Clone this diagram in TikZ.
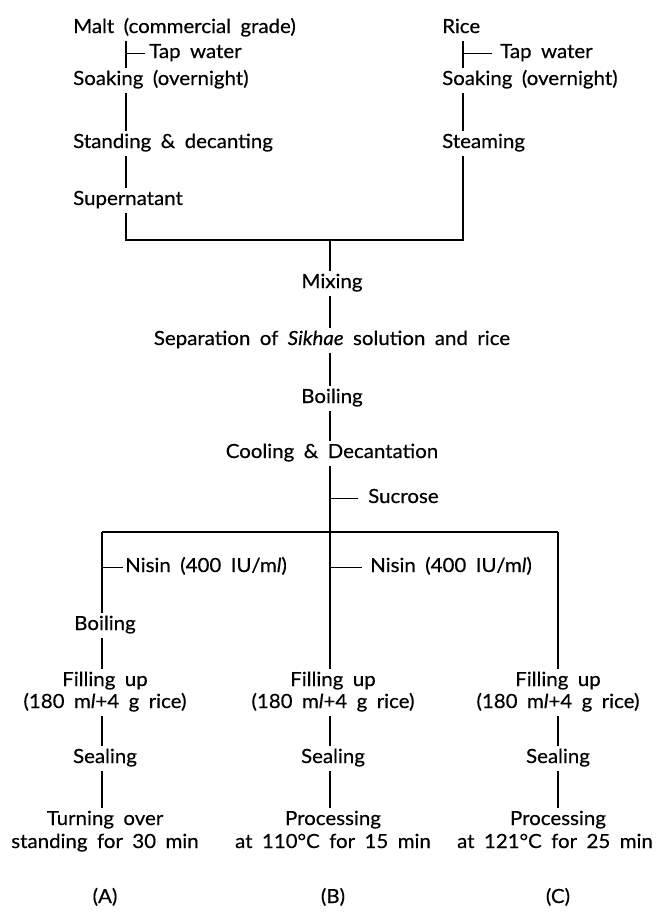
\documentclass[tikz,border=0pt]{standalone}
\usepackage{fontspec}
\setmainfont{Lato}[FakeStretch=1.05, WordSpace=1.8, FakeBold=0.4]
\begin{document}
\begin{tikzpicture}[x=1pt,y=-1pt,
  lbl/.style={inner xsep=0pt, inner ysep=3pt, text height=14pt, text depth=5pt,
    font=\fontsize{19.5}{23}\selectfont},
  ln/.style={line width=1.2pt}]
\useasboundingbox (0,0) rectangle (657,913);
% column lines
\coordinate (cL) at (126,0);
\coordinate (cR) at (463,0);
\coordinate (cM) at (330,0);
\coordinate (cA) at (102,0);
\coordinate (cC) at (558,0);
\coordinate (j1) at (330,240);
\coordinate (j2) at (330,532);
% left top column
\node[lbl,anchor=base west] (malt) at (73,33) {Malt (commercial grade)};
\node[lbl,anchor=base west] (tapL) at (149,58) {Tap water};
\node[lbl,anchor=base west] (soakL) at (73,85) {Soaking (overnight)};
\node[lbl,anchor=base west] (stand) at (73,148) {Standing \& decanting};
\node[lbl,anchor=base west] (sup) at (73,205) {Supernatant};
% right top column
\node[lbl,anchor=base west] (rice) at (442,33) {Rice};
\node[lbl,anchor=base west] (tapR) at (500,58) {Tap water};
\node[lbl,anchor=base west] (soakR) at (442,85) {Soaking (overnight)};
\node[lbl,anchor=base west] (steam) at (442,148) {Steaming};
% centre
\node[lbl,anchor=base] (mix) at (332,288) {Mixing};
\node[lbl,anchor=base] (sep) at (332,345) {Separation of \textit{Sikhae} solution and rice};
\node[lbl,anchor=base] (boil) at (332,403) {Boiling};
\node[lbl,anchor=base] (cool) at (332,458) {Cooling \& Decantation};
\node[lbl,anchor=base west] (sucr) at (368,503) {Sucrose};
\node[lbl,anchor=base west] (nisA) at (125,572) {Nisin (400 IU/m\textit{l})};
\node[lbl,anchor=base west] (nisB) at (370,572) {Nisin (400 IU/m\textit{l})};
% column A
\node[lbl,anchor=base] (boilA) at (105,630) {Boiling};
\node[lbl,anchor=base] (fillA) at (105,686) {Filling up};
\node[lbl,anchor=base] (fillAb) at (105,708) {(180 m\textit{l}+4 g rice)};
\node[lbl,anchor=base] (sealA) at (105,763) {Sealing};
\node[lbl,anchor=base] (turnA) at (105,825) {Turning over};
\node[lbl,anchor=base] (turnAb) at (105,848) {standing for 30 min};
\node[lbl,anchor=base] (labA) at (105,903) {(A)};
% column B
\node[lbl,anchor=base] (fillB) at (333,686) {Filling up};
\node[lbl,anchor=base] (fillBb) at (333,708) {(180 m\textit{l}+4 g rice)};
\node[lbl,anchor=base] (sealB) at (333,763) {Sealing};
\node[lbl,anchor=base] (procB) at (333,825) {Processing};
\node[lbl,anchor=base] (procBb) at (333,848) {at 110\textdegree C for 15 min};
\node[lbl,anchor=base] (labB) at (333,903) {(B)};
% column C
\node[lbl,anchor=base] (fillC) at (558,686) {Filling up};
\node[lbl,anchor=base] (fillCb) at (558,708) {(180 m\textit{l}+4 g rice)};
\node[lbl,anchor=base] (sealC) at (558,763) {Sealing};
\node[lbl,anchor=base] (procC) at (558,825) {Processing};
\node[lbl,anchor=base] (procCb) at (555,848) {at 121\textdegree C for 25 min};
\node[lbl,anchor=base] (labC) at (558,903) {(C)};
% connectors top
\draw[ln] (malt.south -| cL) -- (soakL.north -| cL);
\draw[ln] (tapL.west -| cL) -- ([xshift=-4pt]tapL.west);
\draw[ln] (soakL.south -| cL) -- (stand.north -| cL);
\draw[ln] (stand.south -| cL) -- (sup.north -| cL);
\draw[ln] (rice.south -| cR) -- (soakR.north -| cR);
\draw[ln] (tapR.west -| cR) -- ([xshift=-8pt]tapR.west);
\draw[ln] (soakR.south -| cR) -- (steam.north -| cR);
\draw[ln] (sup.south -| cL) |- (j1) -| (steam.south -| cR);
% centre
\draw[ln] (j1) -- (mix.north -| cM);
\draw[ln] (mix.south -| cM) -- (sep.north -| cM);
\draw[ln] (sep.south -| cM) -- (boil.north -| cM);
\draw[ln] (boil.south -| cM) -- (cool.north -| cM);
\draw[ln] (cool.south -| cM) -- (fillB.north -| cM);
\draw[ln] (sucr.west -| cM) -- ([xshift=-10pt]sucr.west);
\draw[ln] (cA |- j2) -- (cC |- j2);
\draw[ln] (cA |- j2) -- (boilA.north -| cA);
\draw[ln] (cC |- j2) -- (fillC.north -| cC);
\draw[ln] (nisA.west -| cA) -- ([xshift=-2pt]nisA.west);
\draw[ln] (nisB.west -| cM) -- ([xshift=-8pt]nisB.west);
% column A
\draw[ln] (boilA.south -| cA) -- (fillA.north -| cA);
\draw[ln] (fillAb.south -| cA) -- (sealA.north -| cA);
\draw[ln] (sealA.south -| cA) -- (turnA.north -| cA);
% column B
\draw[ln] (fillBb.south -| cM) -- (sealB.north -| cM);
\draw[ln] (sealB.south -| cM) -- (procB.north -| cM);
% column C
\draw[ln] (fillCb.south -| cC) -- (sealC.north -| cC);
\draw[ln] (sealC.south -| cC) -- (procC.north -| cC);
\end{tikzpicture}
\end{document}
